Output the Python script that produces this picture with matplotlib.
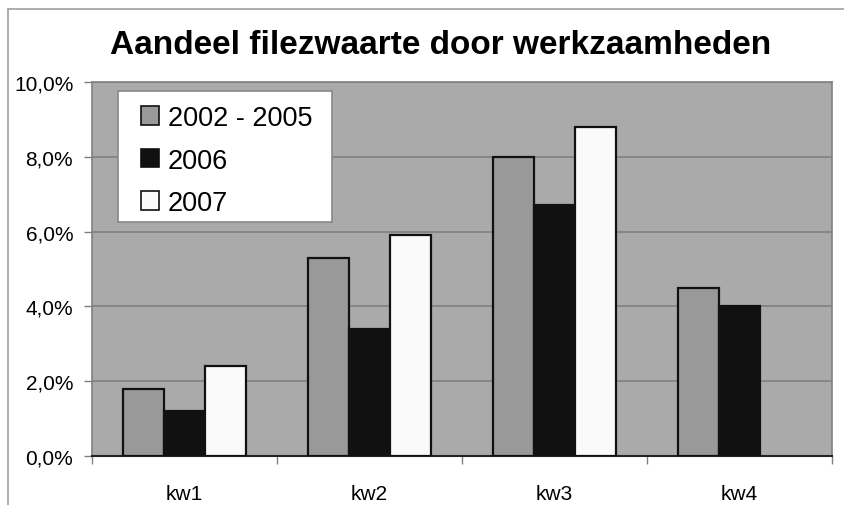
import matplotlib
matplotlib.use("Agg")
import matplotlib.pyplot as plt
import numpy as np
from matplotlib.lines import Line2D
from matplotlib.patches import Patch, Rectangle

plt.rcParams['font.family'] = ['Liberation Sans', 'DejaVu Sans']

categories = ["kw1", "kw2", "kw3", "kw4"]
series_names = ["2002 - 2005", "2006", "2007"]
v_2002_2005 = [1.8, 5.3, 8.0, 4.5]
v_2006 = [1.2, 3.4, 6.7, 4.0]
v_2007 = [2.4, 5.9, 8.8, np.nan]
y_ticks = [0, 2, 4, 6, 8, 10]
y_tick_labels = ["0,0%", "2,0%", "4,0%", "6,0%", "8,0%", "10,0%"]
title = "Aandeel filezwaarte door werkzaamheden"

series = [v_2002_2005, v_2006, v_2007]
faces = ["#999999", "#111111", "#fafafa"]

W, H = 844, 506
fig = plt.figure(figsize=(W / 100, H / 100), dpi=100)
fig.patch.set_facecolor("white")

AX_L, AX_R, AX_T, AX_B = 92, 832, 83, 457
ax = fig.add_axes([AX_L / W, 1 - AX_B / H, (AX_R - AX_L) / W, (AX_B - AX_T) / H])
ax.set_facecolor("#aaaaaa")


def px2ax(px, py):
    return (px - AX_L) / (AX_R - AX_L), 1 - (py - AX_T) / (AX_B - AX_T)


x = np.arange(len(categories))
bw = 1 / 4.5
for i, (vals, fc) in enumerate(zip(series, faces)):
    ax.bar(x + (i - 1) * bw, vals, width=bw, color=fc, edgecolor="#111111",
           linewidth=1.6, zorder=3)

ax.set_xlim(-0.5, len(categories) - 0.5)
ax.set_ylim(0, 10)
ax.set_yticks(y_ticks)
ax.set_yticklabels(y_tick_labels, fontsize=15)
ax.yaxis.grid(True, color="#808080", linewidth=1.2, zorder=1)
ax.set_axisbelow(True)

ax.set_xticks(x)
ax.set_xticklabels(categories, fontsize=15)
ax.tick_params(axis="x", length=0, pad=20)
ax.set_xticks(np.arange(len(categories) + 1) - 0.5, minor=True)
ax.tick_params(axis="x", which="minor", length=6, color="#808080", width=1)
ax.tick_params(axis="y", length=6, color="#808080", width=1, pad=7.5)

for s in ["left", "top", "right"]:
    ax.spines[s].set_color("#808080")
    ax.spines[s].set_linewidth(1.2)
ax.spines["bottom"].set_color("#222222")
ax.spines["bottom"].set_linewidth(1.5)

# legend box drawn manually
x0, y0 = px2ax(118, 223)
x1, y1 = px2ax(332, 92)
ax.add_patch(Rectangle((x0, y0), x1 - x0, y1 - y0, transform=ax.transAxes,
                       facecolor="white", edgecolor="#888888", linewidth=1.2,
                       zorder=4))

handles = [Patch(facecolor=fc, edgecolor="#111111", linewidth=1.2) for fc in faces]
leg = ax.legend(handles, series_names, loc="upper left",
                bbox_to_anchor=px2ax(141, 106),
                fontsize=19.5, frameon=False,
                handlelength=0.65, handleheight=0.65,
                handletextpad=0.35, labelspacing=0.61, borderpad=0,
                borderaxespad=0)
leg.set_zorder(5)

fig.text(441 / W, 1 - 45 / H, title, ha="center", va="center",
         fontsize=24, fontweight="bold")

# chart outer border (left and top)
fig.add_artist(Line2D([8 / W, 8 / W], [0, 1 - 10 / H], transform=fig.transFigure,
                      color="#a0a0a0", linewidth=1.2))
fig.add_artist(Line2D([8 / W, 1], [1 - 10 / H, 1 - 10 / H], transform=fig.transFigure,
                      color="#a0a0a0", linewidth=1.2))

fig.savefig("out.png", dpi=100, facecolor="white")
